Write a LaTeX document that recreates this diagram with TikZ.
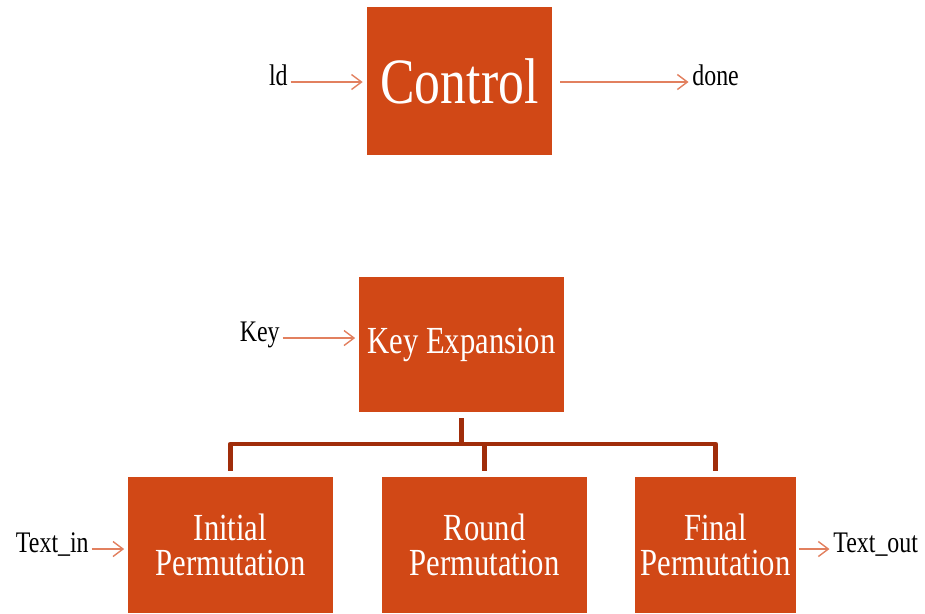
\documentclass[tikz,border=0pt]{standalone}
\usepackage{fontspec}
\setmainfont[FakeStretch=0.8]{Liberation Serif}
\usepackage{xcolor}
\usepackage{tikz}
\usetikzlibrary{arrows.meta, positioning}
\definecolor{boxorange}{HTML}{D14816}
\definecolor{treebrown}{HTML}{A02D0A}
\definecolor{arroworange}{HTML}{E2805F}
\tikzset{
    cipher/.style={x=0.02cm, y=-0.02cm},
    cipher box/.style={fill=boxorange, text=white, align=center, inner sep=0pt,
        font=\fontsize{21.8}{20}\selectfont},
    cipher arrow/.style={-{Straight Barb[length=0.2cm, width=0.3cm]}, arroworange,
        line width=0.8pt, shorten >=0.07cm, shorten <=0.05cm},
    cipher tree/.style={treebrown, line width=2.8pt, line join=round},
    cipher label/.style={font=\fontsize{17}{20}\selectfont, inner sep=0pt,
        text height=1.5ex, text depth=0.75ex},
}

\begin{document}
\begin{tikzpicture}[cipher]
    \useasboundingbox (0,0) rectangle (925,613);
    % control block
    \node[cipher box, minimum width=3.72cm, minimum height=2.96cm,
        font=\fontsize{36.8}{40}\selectfont] (ctl) at (459.5,81) {Control};
    \node[cipher label, anchor=east] (ld) at (288,82) {ld};
    \node[cipher label, anchor=west] (done) at (692,82) {done};
    \draw[cipher arrow] (ld.east) -- (ld.east -| ctl.west);
    \draw[cipher arrow, shorten <=0.15cm] (ctl.east |- done.west) -- (done.west);
    % key schedule and permutations
    \node[cipher box, minimum width=4.1cm, minimum height=2.7cm]
        (kexp) at (461.5,344.5) {Key Expansion};
    \node[cipher box, minimum width=4.1cm, minimum height=2.72cm]
        (init) at (230.5,545) {Initial\\Permutation};
    \node[cipher box, minimum width=4.1cm, minimum height=2.72cm]
        (rnd) at (484.5,545) {Round\\Permutation};
    \node[cipher box, minimum width=3.22cm, minimum height=2.72cm]
        (final) at (715.5,545) {Final\\Permutation};
    \node[cipher label, anchor=east] (key) at (280,338) {Key};
    \node[cipher label, anchor=east] (tin) at (89,549) {Text\_in};
    \node[cipher label, anchor=west] (tout) at (833,549) {Text\_out};
    \draw[cipher arrow] (key.east) -- (key.east -| kexp.west);
    \draw[cipher arrow] (tin.east) -- (tin.east -| init.west);
    \draw[cipher arrow] (final.east |- tout.west) -- (tout.west);
    % branch lines
    \coordinate (bus) at (461.5,444);
    \draw[cipher tree] ([yshift=-0.12cm]kexp.south) -- (bus);
    \draw[cipher tree] (bus) -| ([yshift=0.12cm]init.north);
    \draw[cipher tree] (bus) -| ([yshift=0.12cm]rnd.north);
    \draw[cipher tree] (bus) -| ([yshift=0.12cm]final.north);
\end{tikzpicture}
\end{document}
